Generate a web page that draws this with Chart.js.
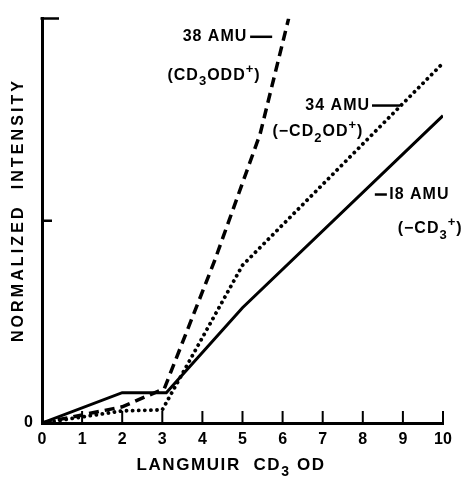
<!DOCTYPE html>
<html>
<head>
<meta charset="utf-8">
<script src="https://cdn.jsdelivr.net/npm/chart.js@4.4.1/dist/chart.umd.min.js"></script>
<style>html,body{margin:0;padding:0;background:#fff}</style>
</head>
<body>
<canvas id="chart" width="470" height="478"></canvas>
<script>
// langmuir exposure (x) vs normalized intensity (y)
const xTicks = [0, 1, 2, 3, 4, 5, 6, 7, 8, 9, 10]
const amu38X = [0, 1, 2, 3.05, 4.3, 5.44, 6.15]
const amu38Y = [0, 0.04, 0.08, 0.17, 0.8, 1.43, 2.0]
const amu34X = [0, 1, 2, 3, 5, 10]
const amu34Y = [0, 0.03, 0.06, 0.065, 0.78, 1.78]
const amu18X = [0, 2, 3.1, 5, 10]
const amu18Y = [0, 0.15, 0.15, 0.57, 1.52]

// annotation text, anchored in data units
const notes = [
  { text: '38 AMU', x: 5.12, y: 1.91, align: 'right', lead: [5.19, 5.74] },
  { text: '(CD₃ODD⁺)', x: 4.29, y: 1.72, align: 'center' },
  { text: '34 AMU', x: 8.18, y: 1.57, align: 'right', lead: [8.23, 8.93] },
  { text: '(−CD₂OD⁺)', x: 6.88, y: 1.44, align: 'center' },
  { text: 'I8 AMU', x: 8.66, y: 1.13, align: 'left', lead: [8.3, 8.6] },
  { text: '(−CD₃⁺)', x: 9.68, y: 0.96, align: 'center' }
]

const toPoints = (xs, ys) => xs.map((x, i) => ({ x: x, y: ys[i] }))

const FONT = '"Liberation Sans", Arial, sans-serif'
const SUBS = { '₂': '2', '₃': '3' }
const SUPS = { '⁺': '+' }

// draws text with big sub/superscripts like the typewritten original
function drawRich(ctx, text, x, y, align, size, spacing) {
  const segs = []
  for (const ch of text) {
    let kind = 'n', c = ch
    if (SUBS[ch]) { kind = 'sub'; c = SUBS[ch] }
    if (SUPS[ch]) { kind = 'sup'; c = SUPS[ch] }
    const last = segs[segs.length - 1]
    if (last && last.kind === kind) last.t += c
    else segs.push({ kind: kind, t: c })
  }
  ctx.letterSpacing = spacing + 'px'
  let total = 0
  segs.forEach(s => {
    s.size = s.kind === 'n' ? size : Math.round(size * 0.8)
    ctx.font = 'bold ' + s.size + 'px ' + FONT
    s.w = ctx.measureText(s.t).width
    total += s.w
  })
  let cx = align === 'left' ? x : align === 'right' ? x - total : x - total / 2
  ctx.textAlign = 'left'
  ctx.textBaseline = 'middle'
  segs.forEach(s => {
    ctx.font = 'bold ' + s.size + 'px ' + FONT
    const dy = s.kind === 'sub' ? size * 0.4 : s.kind === 'sup' ? -size * 0.38 : 0
    ctx.fillText(s.t, cx, y + dy)
    cx += s.w
  })
}

const drawExtras = {
  id: 'drawExtras',
  afterDraw(chart) {
    const ctx = chart.ctx
    const xs = chart.scales.x
    const ys = chart.scales.y
    ctx.save()
    ctx.strokeStyle = '#000'
    ctx.fillStyle = '#000'
    ctx.lineWidth = 2
    // inward ticks on x axis
    xTicks.forEach(v => {
      const px = xs.getPixelForValue(v)
      ctx.beginPath()
      ctx.moveTo(px, ys.bottom)
      ctx.lineTo(px, ys.bottom - 12)
      ctx.stroke()
    })
    // ticks on y axis (1 and top)
    ctx.lineWidth = 2.5
    ctx.beginPath()
    ctx.moveTo(xs.left, ys.getPixelForValue(1))
    ctx.lineTo(xs.left + 10, ys.getPixelForValue(1))
    ctx.moveTo(xs.left - 1.5, ys.getPixelForValue(2))
    ctx.lineTo(xs.left + 17, ys.getPixelForValue(2))
    ctx.stroke()

    // axis titles
    drawRich(ctx, 'LANGMUIR  CD₃ OD', 231, 465, 'center', 17, 1.6)
    ctx.save()
    ctx.translate(19, 210)
    ctx.rotate(-Math.PI / 2)
    drawRich(ctx, 'NORMALIZED  INTENSITY', 0, 0, 'center', 16, 3.1)
    ctx.restore()

    // annotations
    ctx.lineWidth = 2.5
    notes.forEach(n => {
      const px = xs.getPixelForValue(n.x)
      const py = ys.getPixelForValue(n.y)
      drawRich(ctx, n.text, px, py, n.align, 16, 1)
      if (n.lead) {
        ctx.beginPath()
        ctx.moveTo(xs.getPixelForValue(n.lead[0]), py)
        ctx.lineTo(xs.getPixelForValue(n.lead[1]), py)
        ctx.stroke()
      }
    })
    ctx.restore()
  }
}

new Chart('chart', {
  type: 'scatter',
  data: {
    datasets: [
      {
        data: toPoints(amu18X, amu18Y),
        showLine: true,
        borderColor: '#000',
        borderWidth: 3,
        pointRadius: 0
      },
      {
        data: toPoints(amu34X, amu34Y),
        showLine: true,
        borderColor: '#000',
        borderWidth: 3.8,
        borderDash: [0.1, 6],
        borderCapStyle: 'round',
        pointRadius: 0
      },
      {
        data: toPoints(amu38X, amu38Y),
        showLine: true,
        borderColor: '#000',
        borderWidth: 3.5,
        borderDash: [10, 6],
        pointRadius: 0
      }
    ]
  },
  options: {
    responsive: false,
    animation: false,
    layout: { padding: { top: 15, right: 27, left: 0, bottom: 0 } },
    plugins: {
      legend: { display: false },
      tooltip: { enabled: false }
    },
    scales: {
      x: {
        type: 'linear',
        min: 0,
        max: 10,
        afterFit: s => { s.height = 55 },
        grid: { display: false, drawTicks: false },
        border: { display: true, color: '#000', width: 3 },
        ticks: {
          stepSize: 1,
          padding: 7,
          color: '#000',
          font: { family: FONT, size: 16, weight: 'bold' }
        }
      },
      y: {
        min: 0,
        max: 2,
        afterFit: s => { s.width = 42 },
        grid: { display: false, drawTicks: false },
        border: { display: true, color: '#000', width: 3 },
        ticks: {
          stepSize: 1,
          padding: 9,
          color: '#000',
          font: { family: FONT, size: 16, weight: 'bold' },
          callback: v => v === 0 ? '0' : ''
        }
      }
    }
  },
  plugins: [drawExtras]
})
</script>
</body>
</html>
